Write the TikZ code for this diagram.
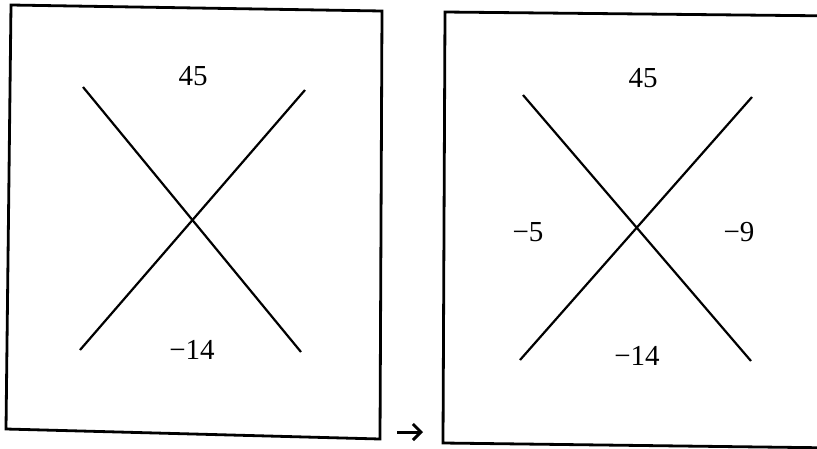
\documentclass[tikz,border=0pt]{standalone}
\usepackage{fontspec}
\setmainfont{Liberation Serif}
\usetikzlibrary{arrows.meta}
\begin{document}
\begin{tikzpicture}[x=1pt,y=-1pt,
  frame/.style={line width=2.8pt,line join=miter},
  cross/.style={line width=2.2pt},
  num/.style={font=\fontsize{29}{32}\selectfont,inner sep=0pt}]
\useasboundingbox (0,0) rectangle (817,448);
\clip (0,0) rectangle (817,448);
% left box
\coordinate (L1) at (11,5);
\coordinate (L2) at (382,11);
\coordinate (L3) at (380,439);
\coordinate (L4) at (6,429);
\draw[frame] (L1) -- (L2) -- (L3) -- (L4) -- cycle;
% right box
\coordinate (R1) at (445,12);
\coordinate (R2) at (840,16);
\coordinate (R3) at (840,448);
\coordinate (R4) at (443,443);
\draw[frame] (R2) -- (R1) -- (R4) -- (R3);
% left cross
\coordinate (a1) at (83,87);
\coordinate (a2) at (301,352);
\coordinate (a3) at (305,90);
\coordinate (a4) at (80,350);
\draw[cross] (a1) -- (a2);
\draw[cross] (a3) -- (a4);
% right cross
\coordinate (b1) at (523,95);
\coordinate (b2) at (751,361);
\coordinate (b3) at (752,97);
\coordinate (b4) at (520,360);
\draw[cross] (b1) -- (b2);
\draw[cross] (b3) -- (b4);
% labels
\node[num] (t1) at (193,76) {45};
\node[num] (t2) at (192,350) {−14};
\node[num] (t3) at (643,78) {45};
\node[num] (t4) at (528,232) {−5};
\node[num] (t5) at (739,232) {−9};
\node[num] (t6) at (637,356) {−14};
% arrow
\coordinate (p1) at (397,432);
\coordinate (p2) at (423,432);
\draw[line width=3pt,-{Straight Barb[length=8pt,width=16pt,line width=3pt]}] (p1) -- (p2);
\end{tikzpicture}
\end{document}
